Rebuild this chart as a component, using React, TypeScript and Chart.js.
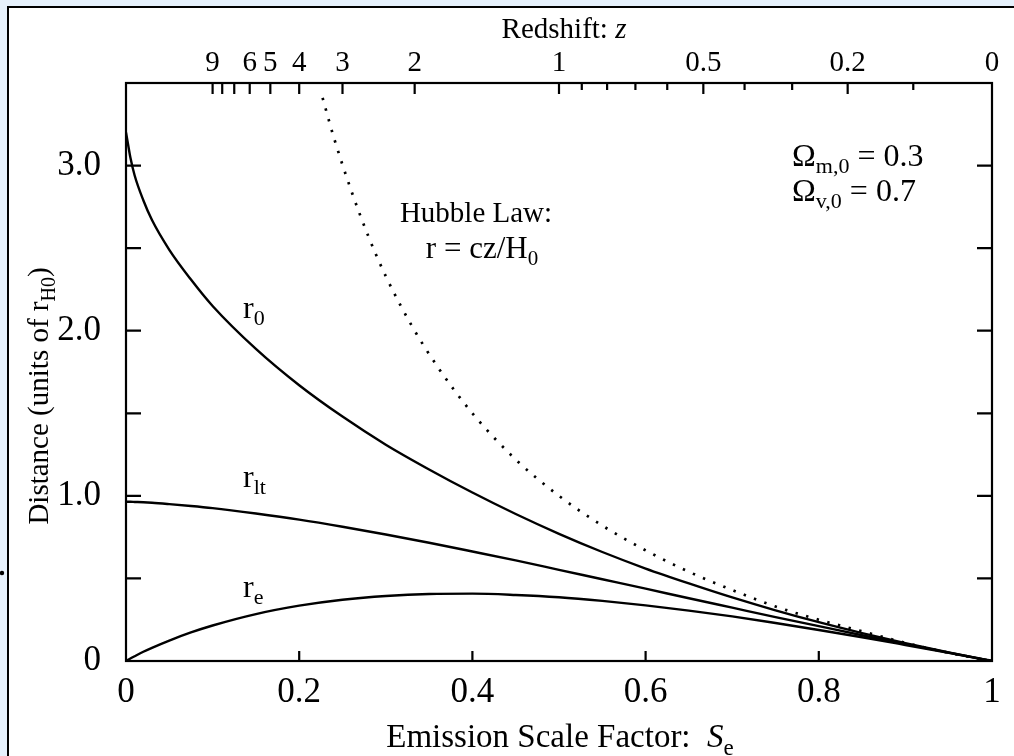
import React, { useEffect, useRef } from "react";
import { Chart, registerables } from "chart.js";

Chart.register(...registerables);

// Emission scale factor S_e (x) and the three distance measures in units of r_H0
const scaleFactor = [
  0, 0.002, 0.005, 0.01, 0.02, 0.03, 0.05, 0.075, 0.1, 0.15, 0.2, 0.25, 0.3, 0.35,
  0.4, 0.45, 0.5, 0.55, 0.6, 0.65, 0.7, 0.75, 0.8, 0.85, 0.9, 0.95, 1,
];
const properDistanceNow = [
  3.2, 3.14, 3.05, 2.94, 2.79, 2.67, 2.49, 2.31, 2.15, 1.89, 1.67, 1.48, 1.31, 1.16,
  1.02, 0.89, 0.77, 0.66, 0.56, 0.47, 0.385, 0.307, 0.235, 0.169, 0.108, 0.052, 0,
];
const lightTravelDistance = [
  0.964, 0.964, 0.964, 0.963, 0.961, 0.958, 0.95, 0.939, 0.926, 0.893, 0.856, 0.813,
  0.766, 0.716, 0.663, 0.609, 0.552, 0.495, 0.438, 0.38, 0.323, 0.266, 0.211, 0.156,
  0.103, 0.051, 0,
];
const emissionDistance = [
  0, 0.006, 0.015, 0.029, 0.056, 0.08, 0.124, 0.173, 0.215, 0.284, 0.335, 0.371,
  0.394, 0.406, 0.408, 0.4, 0.386, 0.364, 0.337, 0.305, 0.27, 0.23, 0.188, 0.144,
  0.097, 0.049, 0,
];

// Hubble law r = cz/H0 (dotted)
const hubbleScaleFactor = [
  0.227, 0.24, 0.26, 0.28, 0.3, 0.33, 0.36, 0.4, 0.45, 0.5, 0.55, 0.6, 0.65, 0.7,
  0.75, 0.8, 0.85, 0.9, 0.95, 1,
];
const hubbleDistance = [
  3.41, 3.17, 2.85, 2.57, 2.33, 2.03, 1.78, 1.5, 1.22, 1.0, 0.82, 0.67, 0.54, 0.43,
  0.33, 0.25, 0.18, 0.11, 0.05, 0,
];

// Axis ticks
const scaleFactorTicks = [0, 0.2, 0.4, 0.6, 0.8, 1];
const distanceTicks = [0, 1, 2, 3];
const distanceTickMarks = [0.5, 1, 1.5, 2, 2.5, 3];
const redshiftLabels = [9, 6, 5, 4, 3, 2, 1, 0.5, 0.2, 0];
const redshiftLongMarks = [9, 8, 7, 6, 5, 4, 3, 2, 1, 0.5, 0.2];
const redshiftShortMarks = [0.9, 0.8, 0.7, 0.6, 0.4, 0.3, 0.1];

const SERIF = '"Liberation Serif", "Times New Roman", Times, serif';

const zToScale = (z: number) => 1 / (1 + z);

type Run = { text: string; size: number; italic?: boolean; shift?: number };

function runFont(r: Run) {
  return `${r.italic ? "italic " : ""}${r.size}px ${SERIF}`;
}

function drawRuns(
  ctx: CanvasRenderingContext2D,
  runs: Run[],
  x: number,
  y: number,
  align: "left" | "center"
) {
  let total = 0;
  for (const r of runs) {
    ctx.font = runFont(r);
    total += ctx.measureText(r.text).width;
  }
  let cx = align === "center" ? x - total / 2 : x;
  for (const r of runs) {
    ctx.font = runFont(r);
    ctx.fillText(r.text, cx, y + (r.shift || 0));
    cx += ctx.measureText(r.text).width;
  }
}

const overlayPlugin = {
  id: "overlay",
  afterDatasetsDraw(chart: any) {
    const { ctx, chartArea: a, scales } = chart;
    const xs = scales.x;
    const ys = scales.y;
    const top = scales.x2;
    ctx.save();
    ctx.strokeStyle = "#000";
    ctx.fillStyle = "#000";
    ctx.lineWidth = 2.2;
    ctx.lineCap = "butt";

    // plot frame
    ctx.strokeRect(a.left, a.top, a.right - a.left, a.bottom - a.top);

    // inward tick marks
    ctx.beginPath();
    for (const v of scaleFactorTicks.slice(1, -1)) {
      const px = xs.getPixelForValue(v);
      ctx.moveTo(px, a.bottom);
      ctx.lineTo(px, a.bottom - 10);
    }
    for (const v of distanceTickMarks) {
      const py = ys.getPixelForValue(v);
      ctx.moveTo(a.left, py);
      ctx.lineTo(a.left + 15, py);
      ctx.moveTo(a.right, py);
      ctx.lineTo(a.right - 15, py);
    }
    for (const z of redshiftLongMarks) {
      const px = top.getPixelForValue(zToScale(z));
      ctx.moveTo(px, a.top);
      ctx.lineTo(px, a.top + 11);
    }
    for (const z of redshiftShortMarks) {
      const px = top.getPixelForValue(zToScale(z));
      ctx.moveTo(px, a.top);
      ctx.lineTo(px, a.top + 7);
    }
    ctx.stroke();

    ctx.textAlign = "left";
    ctx.textBaseline = "alphabetic";

    // axis titles
    drawRuns(
      ctx,
      [
        { text: "Redshift: ", size: 29 },
        { text: "z", size: 29, italic: true },
      ],
      564,
      38,
      "center"
    );
    drawRuns(
      ctx,
      [
        { text: "Emission Scale Factor:  ", size: 33 },
        { text: "S", size: 33, italic: true },
        { text: "e", size: 23, shift: 8 },
      ],
      560,
      747,
      "center"
    );
    ctx.save();
    ctx.translate(48, 396);
    ctx.rotate(-Math.PI / 2);
    drawRuns(
      ctx,
      [
        { text: "Distance (units of r", size: 29 },
        { text: "H0", size: 20, shift: 7 },
        { text: ")", size: 29 },
      ],
      0,
      0,
      "center"
    );
    ctx.restore();

    // curve labels
    drawRuns(ctx, [{ text: "r", size: 32 }, { text: "0", size: 22, shift: 7 }], 243, 318, "left");
    drawRuns(ctx, [{ text: "r", size: 32 }, { text: "lt", size: 22, shift: 7 }], 243, 487, "left");
    drawRuns(ctx, [{ text: "r", size: 32 }, { text: "e", size: 22, shift: 7 }], 243, 597, "left");

    // Hubble law note
    drawRuns(ctx, [{ text: "Hubble Law:", size: 29 }], 476, 222, "center");
    drawRuns(
      ctx,
      [
        { text: "r = cz/H", size: 31 },
        { text: "0", size: 21, shift: 7 },
      ],
      482,
      258,
      "center"
    );

    // density parameters
    drawRuns(
      ctx,
      [
        { text: "Ω", size: 32 },
        { text: "m,0", size: 22, shift: 7 },
        { text: " = 0.3", size: 32 },
      ],
      792,
      166,
      "left"
    );
    drawRuns(
      ctx,
      [
        { text: "Ω", size: 32 },
        { text: "v,0", size: 22, shift: 7 },
        { text: " = 0.7", size: 32 },
      ],
      792,
      201,
      "left"
    );

    // small mark at the left edge
    ctx.beginPath();
    ctx.arc(2, 573, 2.2, 0, Math.PI * 2);
    ctx.fill();

    ctx.restore();
  },
};

function line(xs: number[], ys: number[], extra: any = {}) {
  return {
    data: xs.map((x, i) => ({ x, y: ys[i] })),
    borderColor: "#000",
    borderWidth: 2.4,
    pointRadius: 0,
    fill: false,
    cubicInterpolationMode: "monotone",
    ...extra,
  };
}

export default function App() {
  const ref = useRef<HTMLCanvasElement>(null);

  useEffect(() => {
    document.body.style.margin = "0";
    const tickFont = { family: SERIF, size: 35 };
    const chart = new Chart(ref.current as HTMLCanvasElement, {
      type: "line",
      data: {
        datasets: [
          line(scaleFactor, properDistanceNow),
          line(scaleFactor, lightTravelDistance),
          line(scaleFactor, emissionDistance),
          line(hubbleScaleFactor, hubbleDistance, {
            borderWidth: 2.7,
            borderDash: [2.4, 8.6],
          }),
        ] as any,
      },
      options: {
        responsive: false,
        devicePixelRatio: 1,
        animation: false,
        events: [],
        layout: { padding: { left: 0, top: 0, right: 22, bottom: 0 } },
        plugins: { legend: { display: false }, tooltip: { enabled: false } },
        scales: {
          x: {
            type: "linear",
            position: "bottom",
            min: 0,
            max: 1,
            grid: { display: false },
            border: { display: false },
            afterBuildTicks: (s: any) => {
              s.ticks = scaleFactorTicks.map((value) => ({ value }));
            },
            afterFit: (s: any) => {
              s.height = 95;
            },
            ticks: {
              font: tickFont,
              color: "#000",
              padding: 3,
              autoSkip: false,
              maxRotation: 0,
              minRotation: 0,
              callback: (v: any) => String(v),
            },
          },
          x2: {
            type: "linear",
            position: "top",
            min: 0,
            max: 1,
            grid: { display: false },
            border: { display: false },
            afterBuildTicks: (s: any) => {
              s.ticks = redshiftLabels.map((z) => ({ value: zToScale(z) }));
            },
            afterFit: (s: any) => {
              s.height = 83;
            },
            ticks: {
              font: { family: SERIF, size: 29 },
              color: "#000",
              padding: -6,
              autoSkip: false,
              maxRotation: 0,
              minRotation: 0,
              callback: (_v: any, i: number) => String(redshiftLabels[i]),
            },
          },
          y: {
            type: "linear",
            position: "left",
            min: 0,
            max: 3.5,
            grid: { display: false },
            border: { display: false },
            afterBuildTicks: (s: any) => {
              s.ticks = distanceTicks.map((value) => ({ value }));
            },
            afterFit: (s: any) => {
              s.width = 126;
            },
            ticks: {
              font: tickFont,
              color: "#000",
              padding: 17,
              autoSkip: false,
              callback: (v: any) => (v === 0 ? "0" : Number(v).toFixed(1)),
            },
          },
        },
      } as any,
      plugins: [overlayPlugin],
    });
    return () => chart.destroy();
  }, []);

  return (
    <div
      style={{
        position: "fixed",
        left: 0,
        top: 0,
        width: 1014,
        height: 756,
        background: "#e6f1fc",
        overflow: "hidden",
      }}
    >
      <div
        style={{
          position: "absolute",
          left: 7,
          top: 6,
          width: 1100,
          height: 800,
          background: "#fff",
          borderLeft: "2px solid #000",
          borderTop: "2px solid #000",
        }}
      />
      <canvas
        ref={ref}
        width={1014}
        height={756}
        style={{ position: "absolute", left: 0, top: 0, width: 1014, height: 756 }}
      />
    </div>
  );
}
